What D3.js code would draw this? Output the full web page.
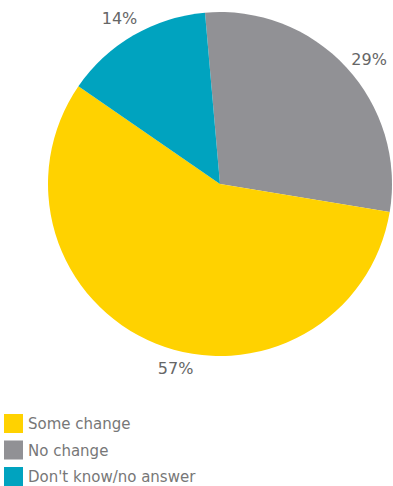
<!DOCTYPE html>
<html><head><meta charset="utf-8">
<script src="https://cdn.jsdelivr.net/npm/d3@7"></script>
<style>body{margin:0;background:#fff;}svg{display:block;}</style>
</head><body>
<svg id="c" width="393" height="486"></svg>
<script>
const categories = ["No change", "Some change", "Don't know/no answer"];
const values = [29, 57, 14];
const labels = ["29%", "57%", "14%"];
const legendOrder = ["Some change", "No change", "Don't know/no answer"];
const colors = {"Some change": "#FFD200", "No change": "#919195", "Don't know/no answer": "#00A3BF"};

const svg = d3.select("#c");
const cx = 220, cy = 184, r = 172;
const start = -5 * Math.PI / 180;
const pie = d3.pie().sort(null).value(d => d.v).startAngle(start).endAngle(start + 2 * Math.PI);
const data = categories.map((c, i) => ({c, v: values[i], l: labels[i]}));
const arcs = pie(data);
const arc = d3.arc().innerRadius(0).outerRadius(r);
const g = svg.append("g").attr("transform", `translate(${cx},${cy})`);
g.selectAll("path").data(arcs).enter().append("path")
  .attr("d", arc).attr("fill", d => colors[d.data.c]);

// label placement nudges (degrees / radius) to match the original layout
const nudge = {"No change": [3, 194], "Some change": [-8.5, 190], "Don't know/no answer": [-1, 194]};
g.selectAll("text").data(arcs).enter().append("text")
  .attr("transform", d => {
    const [da, rr] = nudge[d.data.c];
    const a = (d.startAngle + d.endAngle) / 2 + da * Math.PI / 180;
    return `translate(${rr * Math.sin(a)},${-rr * Math.cos(a)})`;
  })
  .attr("text-anchor", "middle").attr("dominant-baseline", "central")
  .attr("font-family", "DejaVu Sans, sans-serif").attr("font-size", 16)
  .attr("fill", "#666").text(d => d.data.l);

const lg = svg.append("g");
legendOrder.forEach((c, i) => {
  const y = 414 + i * 26.5;
  lg.append("rect").attr("x", 4).attr("y", y).attr("width", 19).attr("height", 19).attr("fill", colors[c]);
  lg.append("text").attr("x", 28).attr("y", y + 15).attr("font-family", "DejaVu Sans, sans-serif")
    .attr("font-size", 15).attr("fill", "#777").text(c);
});
</script>
</body></html>
